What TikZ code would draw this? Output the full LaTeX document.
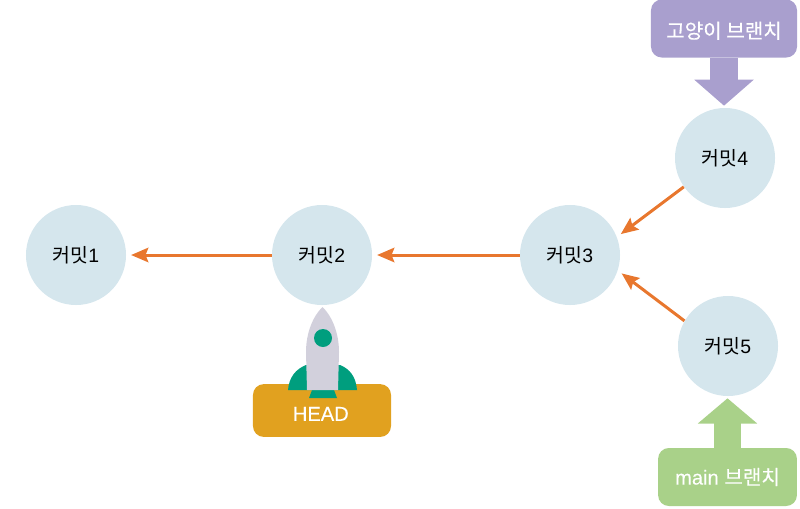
\documentclass[tikz,border=0pt]{standalone}
\usepackage{fontspec}
\setmainfont{Liberation Sans}
\newfontfamily\cjk{Noto Sans CJK KR}
\newfontfamily\cjktag[FakeBold=0.3]{Noto Sans CJK KR}
\newfontfamily\latintag[FakeBold=0.3]{Liberation Sans}
\usepackage{xcolor}
\usetikzlibrary{arrows.meta}
\definecolor{commitblue}{HTML}{D5E6ED}
\definecolor{linkorange}{HTML}{E8772E}
\definecolor{catpurple}{HTML}{A99FCE}
\definecolor{maingreen}{HTML}{A9D189}
\definecolor{headgold}{HTML}{E1A11F}
\definecolor{rocketteal}{HTML}{009E7E}
\definecolor{rocketgrey}{HTML}{D2D0DC}
\tikzset{
  commit/.style={circle,fill=commitblue,minimum size=2.5cm,inner sep=0pt,font=\fontsize{13.8}{16}\selectfont},
  link/.style={draw=linkorange,line width=0.075cm,-{Stealth[length=0.43cm,width=0.36cm,inset=0.07cm]},shorten >=0.12cm},
  tag/.style={rounded corners=0.27cm,text=white,inner sep=0pt,font=\fontsize{14.3}{16}\selectfont},
  blockarrow/.style={line width=#1,shorten >=0.05cm}
}
\begin{document}
\begin{tikzpicture}[x=0.025cm,y=-0.025cm]
  \useasboundingbox (0,0) rectangle (800,508);
  \node[commit] (commit1) at (76,255) {{\cjk 커밋}1};
  \node[commit] (commit2) at (322,255) {{\cjk 커밋}2};
  \node[commit] (commit3) at (570,255) {{\cjk 커밋}3};
  \node[commit] (commit4) at (725,158) {{\cjk 커밋}4};
  \node[commit] (commit5) at (728,346) {{\cjk 커밋}5};
  \draw[link] (commit2) -- (commit1);
  \draw[link] (commit3) -- (commit2);
  \draw[link] (commit4.215) -- (commit3.21);
  \draw[link] (commit5.150) -- (commit3.-18);
  \node[tag,fill=catpurple,minimum width=3.65cm,minimum height=1.45cm,text depth=0pt] (catbranch) at (724,28.5) {\raisebox{-0.07cm}{\cjktag 고양이 브랜치}};
  \node[tag,fill=maingreen,minimum width=3.47cm,minimum height=1.45cm] (mainbranch) at (727.5,477) {{\latintag main} {\cjktag 브랜치}};
  \draw[blockarrow=0.7cm,draw=catpurple,-{Triangle[length=0.65cm,width=1.45cm]}] (catbranch.south) -- (catbranch.south |- commit4.north);
  \draw[blockarrow=0.68cm,draw=maingreen,-{Triangle[length=0.63cm,width=1.45cm]}] (mainbranch.north) -- (mainbranch.north |- commit5.south);
  \node[tag,fill=headgold,minimum width=3.45cm,minimum height=1.32cm,text depth=0pt] (head) at (322,410.5) {\raisebox{-0.17cm}{\latintag HEAD\hspace*{0.06cm}}};
  \fill[rocketteal] (288,390) .. controls (289,377) and (296,369) .. (306,365) -- (340,365) .. controls (350,369) and (356,377) .. (357,390) -- cycle;
  \fill[rocketteal] (312,390) -- (334,390) -- (337,398) -- (309,398) -- cycle;
  \fill[rocketgrey] (322.5,307) .. controls (332,316) and (339,333) .. (339,352) -- (338,390) -- (307,390) -- (306,352) .. controls (306,333) and (313,316) .. (322.5,307) -- cycle;
  \fill[rocketteal] (323,338) circle (9);
\end{tikzpicture}
\end{document}
